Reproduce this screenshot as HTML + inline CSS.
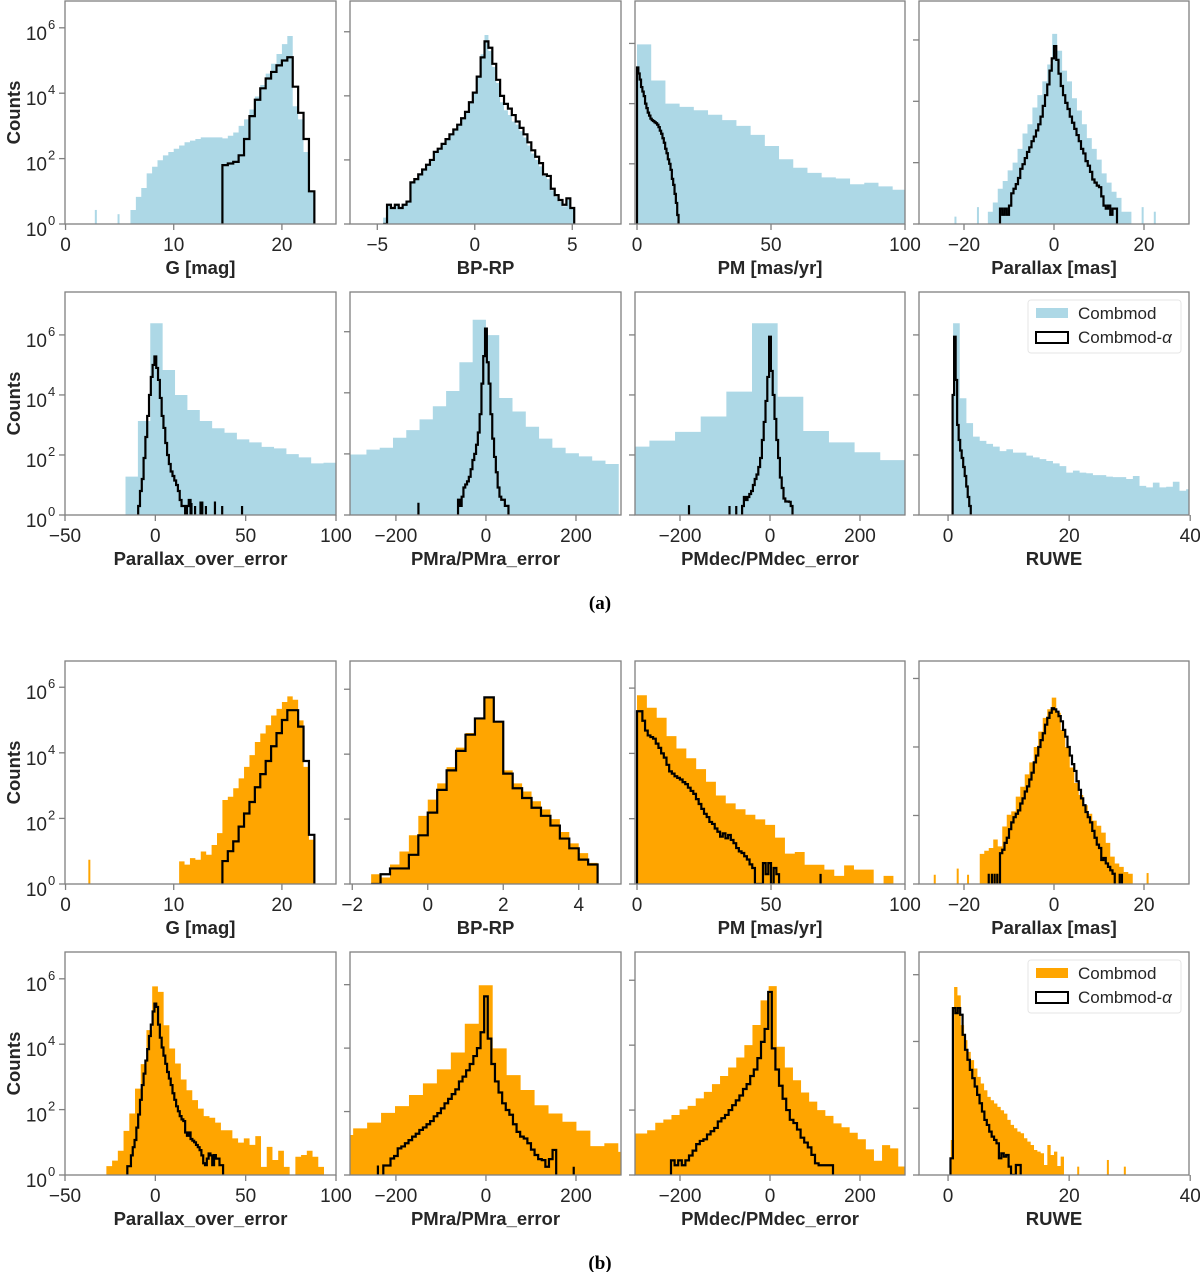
<!DOCTYPE html>
<html><head><meta charset="utf-8"><title>Combmod histograms</title>
<style>
html,body{margin:0;padding:0;background:#fff;}
svg{display:block;}
text{font-family:"Liberation Sans",Arial,sans-serif;fill:#262626;}
.tick{font-size:19px;}
.sup{font-size:13px;}
.axl{font-size:18.5px;font-weight:bold;}
.cap{font-family:"Liberation Serif",serif;font-size:19px;font-weight:bold;fill:#000;}
.leg{font-size:17px;}
</style></head>
<body>
<svg id="fig" width="1200" height="1272" viewBox="0 0 1200 1272" xmlns="http://www.w3.org/2000/svg">
<defs id="defs"></defs>
<text class="cap" x="600" y="609" text-anchor="middle">(a)</text>
<text class="cap" x="600" y="1269" text-anchor="middle">(b)</text>
</svg>
<script>
// ---------------- data (log10 counts per bin) ----------------
const ticksG = [0, 10, 20];
const ticksBPa = [-5, 0, 5];
const ticksBPb = [-2, 0, 2, 4];
const ticksPM = [0, 50, 100];
const ticksPlx = [-20, 0, 20];
const ticksPOE = [-50, 0, 50, 100];
const ticksPMerr = [-200, 0, 200];
const ticksRUWE = [0, 20, 40];
const ticksLogY = [0, 2, 4, 6];

// (a) Combmod (filled) and Combmod-alpha (step)
const a1Fill = [0.43,0.83,1.1,1.55,1.75,1.95,2.1,2.2,2.3,2.4,2.5,2.55,2.6,2.65,2.65,2.65,2.65,2.62,2.7,2.8,3.0,3.2,3.5,3.9,4.25,4.6,4.9,5.2,5.5,5.75,3.6,3.2,2.2,1.0];
const a1Line = [1.8,1.85,1.9,2.1,2.6,3.3,3.8,4.15,4.45,4.65,4.85,5.0,5.1,4.2,3.4,2.6,1.0];
const a1Spikes = [[2.8,0.43],[4.9,0.3]];
const a2Fill = [0.2,0.6,0.5,0.6,0.5,0.6,0.7,1.27,1.4,1.55,1.7,1.85,2.0,2.25,2.35,2.5,2.65,2.8,2.95,3.1,3.3,3.5,3.8,4.1,4.6,5.3,5.9,5.4,4.9,4.4,3.8,3.55,3.4,3.2,3.1,2.9,2.7,2.45,2.2,2.0,1.8,1.5,1.4,1.05,0.85,0.7,0.55,0.75,0.5];
const a2Line = [0,0.6,0.5,0.6,0.5,0.6,0.7,1.3,1.4,1.55,1.7,1.85,2.0,2.25,2.35,2.5,2.65,2.8,2.95,3.1,3.3,3.5,3.8,4.1,4.6,5.2,5.7,5.5,5.0,4.5,4.0,3.75,3.6,3.4,3.2,3.0,2.8,2.55,2.3,2.1,1.9,1.55,1.5,1.1,0.9,0.75,0.6,0.8,0.5];
const a3Fill = [5.97,4.77,4.0,3.89,3.78,3.63,3.45,3.26,2.96,2.59,2.15,1.87,1.70,1.55,1.51,1.32,1.37,1.25,1.14,1.14];
const a3Line = [5.2,5.0,4.8,4.55,4.4,4.25,4.0,3.85,3.7,3.6,3.5,3.45,3.42,3.38,3.35,3.3,3.22,3.1,3.0,2.85,2.7,2.5,2.35,2.15,2.0,1.8,1.5,1.3,1.0,0.7,0.3];
const a4Fill = [0.4,0.7,1.15,1.4,1.75,2.0,2.45,2.95,3.25,3.8,4.2,4.65,5.2,6.2,5.65,5.0,4.65,4.1,3.7,3.25,2.8,2.45,2.1,1.65,1.35,1.05,0.85,0.4,0.4];
const a4Line = [0.5,0.3,0.5,0.3,0.6,1.0,1.15,1.3,1.5,1.8,1.95,2.15,2.35,2.5,2.7,2.85,3.05,3.25,3.5,3.85,4.2,4.55,5.0,5.4,5.8,5.35,4.9,4.5,4.2,3.95,3.75,3.5,3.3,3.1,2.9,2.7,2.45,2.3,2.05,1.9,1.7,1.45,1.35,1.25,1.2,0.9,0.6,0.5,0.6,0.3,0.5,0.5];
const a4Spikes = [[-21.9,0.24],[-16.9,0.55],[19.7,0.55],[22.4,0.4]];
const a5Fill = [1.28,3.13,6.39,4.83,4.0,3.5,3.13,2.89,2.74,2.52,2.42,2.27,2.22,2.03,1.92,1.72,1.74];
const a5Line = [0.3,0.8,1.2,1.9,2.6,3.3,4.0,4.6,5.0,5.28,4.9,4.5,3.9,3.3,2.9,2.4,2.0,1.7,1.45,1.3,1.15,1.0,0.8,0.5,0.3,0.3,0,0.3,0.5];
const a5LineSpikes = [[20,0.4],[22,0.3],[25,0.45],[26,0.45],[28,0.3],[33,0.45],[37,0.3],[48,0.3]];
const a6Fill = [1.98,1.98,2.14,2.2,2.53,2.78,3.13,3.56,4.06,5.0,6.39,5.89,3.83,3.39,2.89,2.5,2.2,2.02,1.92,1.78,1.67];
const a6Line = [0.5,0.3,0.6,0.9,1.0,1.1,1.25,1.5,1.8,2.0,2.3,2.7,3.3,4.3,5.2,6.1,5.0,4.3,3.3,2.5,1.9,1.4,0.9,0.6,0.5,0.5,0.3,0.3];
const a6LineSpikes = [[-150,0.4]];
const a7Fill = [2.28,2.48,2.77,3.28,4.11,6.39,3.94,2.8,2.42,2.09,1.83];
const a7Line = [0.3,0.6,0.5,0.6,0.7,0.8,1.0,1.2,1.35,1.6,1.9,2.5,3.1,3.8,4.6,5.94,4.8,4.0,3.2,2.5,1.9,1.25,0.9,0.55,0.45,0.45,0.44,0.3];
const a7LineSpikes = [[-180,0.33],[-90,0.3],[-75,0.3]];
const a8Fill = [6.39,3.89,3.06,2.61,2.47,2.37,2.28,2.13,2.19,2.08,2.08,1.98,1.92,1.86,1.8,1.72,1.63,1.41,1.48,1.41,1.39,1.33,1.33,1.28,1.26,1.26,1.2,1.3,0.97,0.92,1.08,0.92,0.94,1.11,0.81,0.86];
const a8Line = [4.0,5.94,4.5,3.0,2.5,2.15,1.9,1.6,1.3,0.95,0.6,0.3];

// (b) Combmod (filled) and Combmod-alpha (step)
const b1Fill = [0.69,0.59,0.79,0.74,0.99,0.89,1.19,1.55,2.56,2.66,2.92,3.22,3.57,3.93,4.33,4.59,4.84,5.14,5.34,5.55,5.72,5.62,4.99,3.57,1.35];
const b1Line = [0.7,1.0,1.3,1.75,2.15,2.5,2.95,3.35,3.75,4.2,4.6,5.0,5.3,5.3,4.8,3.75,1.5];
const b1Spikes = [[2.2,0.74]];
const b2Fill = [0.3,0.2,0.6,1.0,1.5,2.1,2.6,3.1,3.6,4.2,4.65,5.1,5.75,5.0,3.5,3.1,2.85,2.55,2.3,2.0,1.6,1.25,0.95,0.65];
const b2Line = [0,0.3,0.48,0.48,0.9,1.5,2.2,2.9,3.5,4.1,4.6,5.1,5.75,5.0,3.4,2.95,2.65,2.35,2.1,1.8,1.4,1.1,0.75,0.6];
const b3Fill = [5.78,5.4,5.09,4.53,4.15,3.85,3.52,3.13,2.71,2.47,2.29,2.12,1.98,1.81,1.42,0.93,0.98,0.59,0.59,0.44,0.25,0.57,0.44,0.44,0,0.25];
const b3Line = [5.29,5.29,5.0,4.7,4.55,4.5,4.45,4.3,4.17,4.0,3.87,3.65,3.45,3.38,3.3,3.25,3.2,3.12,3.06,2.95,2.85,2.76,2.6,2.45,2.3,2.15,2.05,1.9,1.84,1.7,1.6,1.45,1.55,1.4,1.5,1.35,1.25,1.1,1.0,0.95,0.85,0.75,0.6,0.49,0,0,0,0.64,0.3,0.64,0,0.49,0.3];
const b3LineSpikes = [[68.5,0.31]];
const b4Fill = [0.88,0.97,1.05,1.3,1.1,1.68,2.02,2.12,2.55,2.84,3.2,3.55,4.0,4.45,4.85,5.1,5.44,5.0,4.5,4.0,3.4,2.95,2.6,2.3,2.05,1.85,1.7,1.5,1.2,0.8,0.6,0.5,0.35,0.3];
const b4Line = [0.9,1.0,1.2,1.35,1.6,1.8,1.95,2.05,2.15,2.35,2.5,2.7,2.85,3.05,3.25,3.55,3.75,4.0,4.2,4.4,4.65,4.85,5.0,5.13,5.1,5.03,4.9,4.75,4.5,4.3,4.0,3.75,3.5,3.3,3.0,2.75,2.5,2.3,2.1,1.95,1.8,1.55,1.35,1.15,1.05,0.7,0.76,0.6,0.5,0.4,0.3];
const b4Spikes = [[-26.5,0.27],[-21.4,0.45],[-19.1,0.27],[20.8,0.32]];
const b4LineSpikes = [[-14.5,0.3],[-13.8,0.3],[-13.2,0.3],[-12.6,0.3],[14.6,0.3],[15.1,0.3]];
const b5Fill = [0.27,0.44,0.74,1.35,1.88,2.64,3.39,4.43,5.77,5.6,4.58,3.87,3.41,2.92,2.59,2.29,2.03,1.8,1.75,1.6,1.37,1.37,1.12,0.99,1.12,0.92,1.19,0.25,0.86,0.46,0.74,0.25,0,0.56,0.61,0.74,0.56,0.25];
const b5Line = [0.27,0.27,0.6,0.85,1.07,1.45,1.85,2.3,2.75,3.1,3.5,3.85,4.25,4.6,5.0,5.24,5.14,4.6,4.2,3.9,3.65,3.4,3.15,2.95,2.75,2.5,2.3,2.1,1.95,1.8,1.7,1.65,1.3,1.2,1.3,1.1,1.05,1.0,0.92,0.85,0.76,0.6,0.36,0.3,0.5,0.66,0.6,0.3,0.61,0.5,0.5,0.3,0.3];
const b6Fill = [1.26,1.47,1.65,1.96,2.17,2.52,2.89,3.33,3.86,4.77,5.98,3.99,3.15,2.68,2.2,1.94,1.68,1.4,0.91,1.0,0.73];
const b6Line = [0.3,0.3,0.52,0.6,0.84,0.9,1.0,1.1,1.21,1.3,1.42,1.5,1.6,1.7,1.85,1.95,2.1,2.26,2.4,2.55,2.7,2.95,3.1,3.3,3.5,3.75,4.0,4.5,5.63,4.3,3.5,2.95,2.6,2.26,2.05,1.9,1.6,1.36,1.21,1.15,1.0,0.8,0.63,0.5,0.47,0.26,0.5,0.79];
const b6LineSpikes = [[195,0.26],[-240,0.3]];
const b7Fill = [1.28,1.28,1.38,1.61,1.71,1.85,2.02,2.13,2.36,2.56,2.8,3.05,3.31,3.62,4.0,4.62,5.38,5.82,3.95,3.31,2.92,2.54,2.26,2.0,1.82,1.59,1.47,1.3,1.1,0.79,0.44,0.92,0.82,0.26];
const b7Line = [0.45,0.3,0.45,0.3,0.45,0.6,0.75,0.95,1.05,1.1,1.25,1.35,1.45,1.65,1.75,1.85,2.0,2.15,2.3,2.45,2.65,2.8,3.05,3.25,3.6,4.1,4.5,5.64,3.9,3.25,2.75,2.35,2.0,1.7,1.6,1.4,1.15,1.0,0.85,0.62,0.36,0.3,0.3,0.3,0.3];
const b8Fill = [1.05,5.63,5.38,4.49,4.04,3.69,3.44,3.19,2.94,2.74,2.54,2.34,2.24,2.14,2.04,1.94,1.84,1.65,1.5,1.4,1.3,1.25,1.1,1.0,0.9,0.75,0.7,0.65,0.3,0.9,0.6,0.7,0.27,0.55];
const b8Line = [0.5,5.0,4.85,5.0,4.8,4.2,3.75,3.45,3.15,2.9,2.65,2.4,2.15,1.9,1.65,1.5,1.3,1.15,1.05,0.95,0.5,0.65,0.55,0.6,0.25,0,0,0.3,0.3];
const b8Spikes = [[21.5,0.25],[26.4,0.45],[29.2,0.25]];

// ---------------- layout ----------------
const BLUE = '#add8e6', ORANGE = '#ffa500', AXC = '#808080';
const COLS = [[65,336],[350,621],[635,905],[919,1189]];
const ROWS = [[1,224],[292,515],[661,884],[952,1175]];

const panels = [
 {id:'a-g',row:0,col:0,xlim:[-0.05,25],ytop:6.82,ticks:ticksG,label:'G [mag]',color:BLUE,fill:[6,0.5,a1Fill],line:[14.5,0.5,a1Line],fs:a1Spikes},
 {id:'a-bprp',row:0,col:1,xlim:[-6.4,7.5],ytop:6.96,ticks:ticksBPa,label:'BP-RP',color:BLUE,fill:[-4.7,0.2,a2Fill],line:[-4.7,0.2,a2Line]},
 {id:'a-pm',row:0,col:2,xlim:[-0.75,100],ytop:7.41,ticks:ticksPM,label:'PM [mas/yr]',color:BLUE,fill:[0,5.3,a3Fill],line:[0,0.5,a3Line]},
 {id:'a-parallax',row:0,col:3,xlim:[-30,30],ytop:7.27,ticks:ticksPlx,label:'Parallax [mas]',color:BLUE,fill:[-14.7,1.1,a4Fill],line:[-12,0.5,a4Line],fs:a4Spikes},
 {id:'a-poe',row:1,col:0,xlim:[-50,100],ytop:7.43,ticks:ticksPOE,label:'Parallax_over_error',color:BLUE,fill:[-16.5,6.85,a5Fill],line:[-9.5,1,a5Line],ls:a5LineSpikes,ylab:true},
 {id:'a-pmra',row:1,col:1,xlim:[-302,300],ytop:7.3,ticks:ticksPMerr,label:'PMra/PMra_error',color:BLUE,fill:[-324.5,29.5,a6Fill],line:[-62,4,a6Line],ls:a6LineSpikes},
 {id:'a-pmdec',row:1,col:2,xlim:[-300,300],ytop:7.43,ticks:ticksPMerr,label:'PMdec/PMdec_error',color:BLUE,fill:[-325,57,a7Fill],line:[-62,4,a7Line],ls:a7LineSpikes},
 {id:'a-ruwe',row:1,col:3,xlim:[-4.8,39.8],ytop:7.43,ticks:ticksRUWE,label:'RUWE',color:BLUE,fill:[0.83,1.1,a8Fill],line:[0.75,0.25,a8Line],legend:true},
 {id:'b-g',row:2,col:0,xlim:[-0.05,25],ytop:6.8,ticks:ticksG,label:'G [mag]',color:ORANGE,fill:[10.5,0.5,b1Fill],line:[14.5,0.5,b1Line],fs:b1Spikes},
 {id:'b-bprp',row:2,col:1,xlim:[-2.06,5.12],ytop:6.87,ticks:ticksBPb,label:'BP-RP',color:ORANGE,fill:[-1.5,0.25,b2Fill],line:[-1.5,0.25,b2Line]},
 {id:'b-pm',row:2,col:2,xlim:[-0.75,100],ytop:6.83,ticks:ticksPM,label:'PM [mas/yr]',color:ORANGE,fill:[0,3.68,b3Fill],line:[0,1,b3Line],ls:b3LineSpikes},
 {id:'b-parallax',row:2,col:3,xlim:[-30,30],ytop:6.51,ticks:ticksPlx,label:'Parallax [mas]',color:ORANGE,fill:[-16.5,1,b4Fill],line:[-12,0.5,b4Line],fs:b4Spikes,ls:b4LineSpikes},
 {id:'b-poe',row:3,col:0,xlim:[-50,100],ytop:6.82,ticks:ticksPOE,label:'Parallax_over_error',color:ORANGE,fill:[-27.1,3.17,b5Fill],line:[-15.5,1,b5Line]},
 {id:'b-pmra',row:3,col:1,xlim:[-302,300],ytop:7.03,ticks:ticksPMerr,label:'PMra/PMra_error',color:ORANGE,fill:[-326,31,b6Fill],line:[-228,8,b6Line],ls:b6LineSpikes},
 {id:'b-pmdec',row:3,col:2,xlim:[-300,300],ytop:6.87,ticks:ticksPMerr,label:'PMdec/PMdec_error',color:ORANGE,fill:[-309,18,b7Fill],line:[-220,8,b7Line]},
 {id:'b-ruwe',row:3,col:3,xlim:[-4.8,39.8],ytop:6.68,ticks:ticksRUWE,label:'RUWE',color:ORANGE,fill:[0.45,0.55,b8Fill],line:[0.4,0.4,b8Line],fs:b8Spikes,legend:true}
];

const NS = 'http://www.w3.org/2000/svg';
const svg = document.getElementById('fig');
const defs = document.getElementById('defs');
function mk(tag, attrs, parent){
  const e = document.createElementNS(NS, tag);
  for (const k in attrs) e.setAttribute(k, attrs[k]);
  (parent || svg).appendChild(e);
  return e;
}
function fmt(v){ return v < 0 ? '\u2212' + Math.abs(v) : String(v); }

panels.forEach(function(p){
  const x0 = COLS[p.col][0], x1 = COLS[p.col][1];
  const y0 = ROWS[p.row][0], y1 = ROWS[p.row][1];
  const sx = function(v){ return x0 + (v - p.xlim[0]) / (p.xlim[1] - p.xlim[0]) * (x1 - x0); };
  const sy = function(l){ return y1 - Math.max(0, l) / p.ytop * (y1 - y0); };

  const g = mk('g', {});
  
  

  const cp = mk('clipPath', {id: 'clip-' + p.id}, defs);
  mk('rect', {x: x0, y: y0, width: x1 - x0, height: y1 - y0}, cp);
  const plot = mk('g', {'clip-path': 'url(#clip-' + p.id + ')'}, g);
  
  

  // filled histogram
  const fs = p.fill[0], fw = p.fill[1], fv = p.fill[2];
  let d = 'M' + sx(fs).toFixed(2) + ',' + y1;
  fv.forEach(function(v, i){
    const yy = sy(v).toFixed(2);
    d += ' L' + sx(fs + i * fw).toFixed(2) + ',' + yy + ' L' + sx(fs + (i + 1) * fw).toFixed(2) + ',' + yy;
  });
  d += ' L' + sx(fs + fv.length * fw).toFixed(2) + ',' + y1 + ' Z';
  const fillPath = mk('path', {d: d, fill: p.color, stroke: 'none'}, plot);
  
  

  (p.fs || []).forEach(function(s){
    const r = mk('rect', {x: sx(s[0]) - 1, y: sy(s[1]), width: 2, height: y1 - sy(s[1]), fill: p.color}, plot);
    
    
  });

  // step line
  const ls = p.line[0], lw = p.line[1], lv = p.line[2];
  let dl = 'M' + sx(ls).toFixed(2) + ',' + y1;
  lv.forEach(function(v, i){
    const yy = sy(v).toFixed(2);
    dl += ' L' + sx(ls + i * lw).toFixed(2) + ',' + yy + ' L' + sx(ls + (i + 1) * lw).toFixed(2) + ',' + yy;
  });
  dl += ' L' + sx(ls + lv.length * lw).toFixed(2) + ',' + y1;
  (p.ls || []).forEach(function(s){
    dl += ' M' + sx(s[0]).toFixed(2) + ',' + y1 + ' L' + sx(s[0]).toFixed(2) + ',' + sy(s[1]).toFixed(2);
  });
  const linePath = mk('path', {d: dl, fill: 'none', stroke: '#000', 'stroke-width': 2.2, 'stroke-linejoin': 'miter'}, plot);
  
  

  // frame
  const frame = mk('rect', {x: x0, y: y0, width: x1 - x0, height: y1 - y0, fill: 'none', stroke: AXC, 'stroke-width': 1.3}, g);
  
  

  // x ticks
  p.ticks.forEach(function(t){
    const x = sx(t);
    const tk = mk('line', {x1: x, x2: x, y1: y1, y2: y1 + 6, stroke: AXC, 'stroke-width': 1.3}, g);
    
    
    const tl = mk('text', {x: x, y: y1 + 27, 'text-anchor': 'middle', class: 'tick'}, g);
    tl.textContent = fmt(t);
    
    
  });

  // y ticks
  ticksLogY.forEach(function(t){
    const y = sy(t);
    const tk = mk('line', {x1: x0 - 6, x2: x0, y1: y, y2: y, stroke: AXC, 'stroke-width': 1.3}, g);
    
    
    if (p.col === 0) {
      const tl = mk('text', {x: 47, y: y + 12, 'text-anchor': 'end', class: 'tick'}, g);
      tl.textContent = '10';
      
      
      const sp = mk('text', {x: 48, y: y + 1, class: 'sup'}, g);
      sp.textContent = String(t);
      
      
    }
  });

  if (p.col === 0) {
    const cy = (y0 + y1) / 2;
    const yl = mk('text', {x: 20, y: cy, 'text-anchor': 'middle', class: 'axl', transform: 'rotate(-90 20 ' + cy + ')'}, g);
    yl.textContent = 'Counts';
    
    
  }

  const xl = mk('text', {x: (x0 + x1) / 2, y: y1 + 50, 'text-anchor': 'middle', class: 'axl'}, g);
  xl.textContent = p.label;
  
  

  if (p.legend) {
    const lg = mk('g', {}, g);
    
    
    const ly = y0 + 8;
    mk('rect', {x: 1028, y: ly, width: 153, height: 53, rx: 3, fill: '#fff', 'fill-opacity': 0.85, stroke: '#e6e6e6', 'stroke-width': 1}, lg);
    const sw1 = mk('rect', {x: 1036, y: ly + 8, width: 32, height: 10, fill: p.color}, lg);
    
    
    const t1 = mk('text', {x: 1078, y: ly + 19, class: 'leg'}, lg);
    t1.textContent = 'Combmod';
    
    
    const sw2 = mk('rect', {x: 1036, y: ly + 32, width: 32, height: 11, fill: 'none', stroke: '#000', 'stroke-width': 2}, lg);
    
    
    const t2 = mk('text', {x: 1078, y: ly + 43, class: 'leg'}, lg);
    t2.textContent = 'Combmod-';
    const al = mk('tspan', {'font-style': 'italic'}, t2);
    al.textContent = '\u03b1';
    
    
  }
});
</script>
</body></html>
